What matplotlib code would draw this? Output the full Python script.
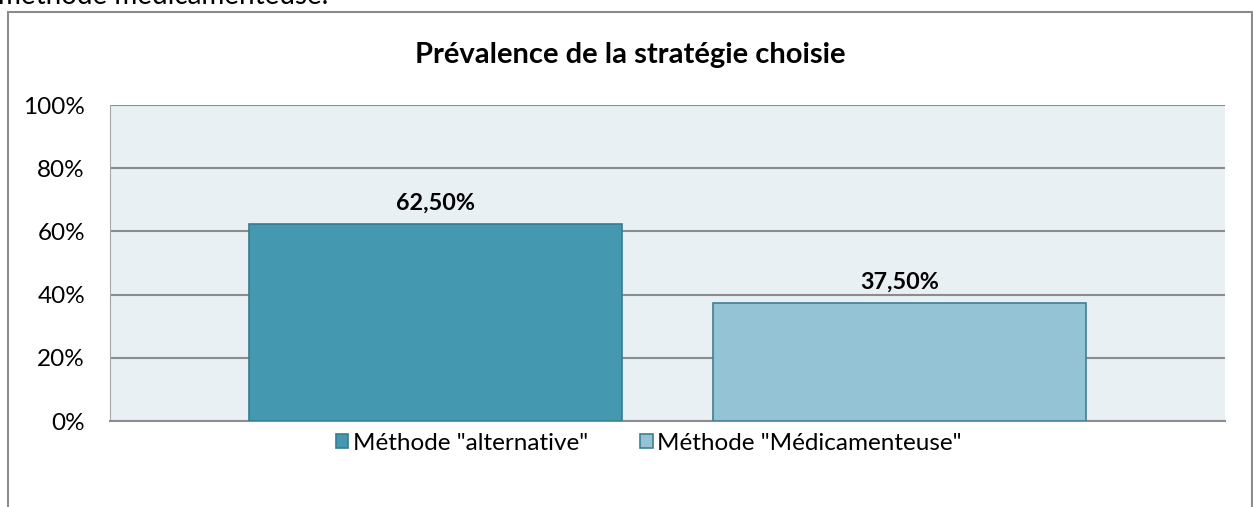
import matplotlib.pyplot as plt
from matplotlib.patches import Rectangle
from matplotlib.ticker import FuncFormatter

plt.rcParams['font.family'] = ['Lato', 'DejaVu Sans']

# data
series = ['Méthode "alternative"', 'Méthode "Médicamenteuse"']
values = [0.625, 0.375]
labels = ['62,50%', '37,50%']
colors = ['#4499B0', '#93C3D4']
edges = ['#357D92', '#3F7F95']

fig = plt.figure(figsize=(12.53, 5.07), dpi=100)

# outer chart frame (partly cut off by image border)
fig.patches.append(Rectangle((8 / 1253, -0.05), 1244 / 1253, 1.05 - 12 / 507,
                             transform=fig.transFigure, fill=False,
                             edgecolor='#8C8C8C', linewidth=1.5))
# cut-off text from the document above the chart
fig.text(-2 / 1253, 1 - 4 / 507, 'méthode médicamenteuse.', fontsize=20,
         ha='left', va='baseline', color='black')

ax = fig.add_axes([110 / 1253, 1 - 421 / 507, 1115 / 1253, 316 / 507])
ax.set_facecolor('#E8F0F4')

width = 0.3345
offsets = [-0.2085, 0.2085]
bars = []
for i in range(len(series)):
    b = ax.bar(offsets[i], values[i], width=width, color=colors[i],
               edgecolor=edges[i], linewidth=1.2, label=series[i], zorder=3)
    bars.append(b)
    ax.text(offsets[i], values[i] + 0.032, labels[i], ha='center',
            va='bottom', fontsize=16.8, fontweight='bold', zorder=4)

ax.set_xlim(-0.5, 0.5)
ax.set_ylim(0, 1)
ax.set_yticks([0, 0.2, 0.4, 0.6, 0.8, 1.0])
ax.yaxis.set_major_formatter(FuncFormatter(lambda v, p: f'{v * 100:.0f}%'))
ax.set_xticks([])
ax.tick_params(axis='y', length=0, pad=18, labelsize=17.5)
ax.grid(axis='y', color='#8C8C8C', linewidth=1.5, zorder=1)
for s in ['top', 'right']:
    ax.spines[s].set_visible(False)
ax.spines['left'].set_color('#A6A6A6')
ax.spines['bottom'].set_color('#8C8C8C')
ax.spines['bottom'].set_linewidth(1.5)

fig.text(630 / 1253, 1 - 55 / 507, 'Prévalence de la stratégie choisie',
         ha='center', va='center', fontsize=21, fontweight='bold')

fig.legend(handles=[b[0] for b in bars], labels=series,
           loc='center', bbox_to_anchor=(649 / 1253, 1 - 443 / 507), ncol=2,
           frameon=False, fontsize=17.5, handlelength=0.5, handleheight=0.5,
           handletextpad=0.2, columnspacing=2.15)

fig.savefig('out.png', dpi=100)
